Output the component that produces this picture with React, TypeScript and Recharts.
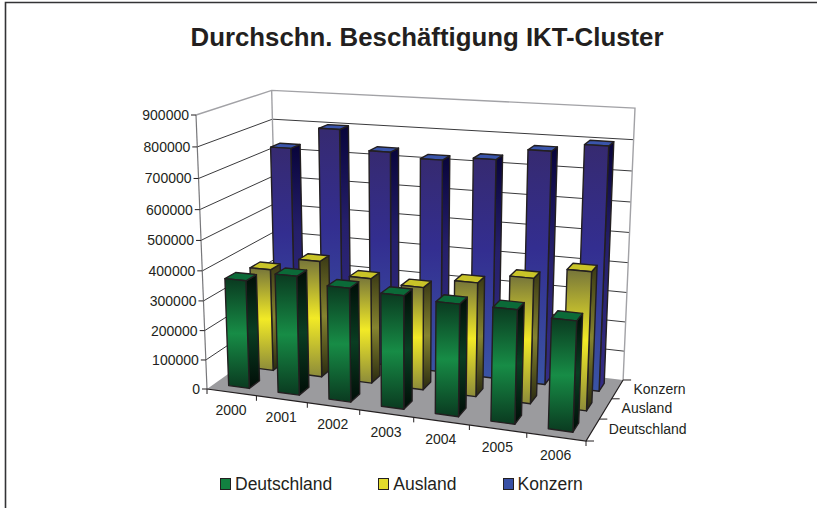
import React from "react";
import { ComposedChart, Bar, XAxis, YAxis, CartesianGrid, Legend, Customized } from "recharts";

const years = ["2000", "2001", "2002", "2003", "2004", "2005", "2006"];
const deutschland = [365000, 397000, 376000, 370000, 362000, 363000, 348000];
const ausland = [353000, 398000, 357000, 345000, 378000, 410000, 448000];
const konzern = [728000, 802000, 737000, 722000, 735000, 773000, 800000];
const valueTicks = [0, 100000, 200000, 300000, 400000, 500000, 600000, 700000, 800000, 900000];
const depthLabels = ["Deutschland", "Ausland", "Konzern"];
const title = "Durchschn. Beschäftigung IKT-Cluster";

const data = years.map((year, i) => ({
  year,
  Deutschland: deutschland[i],
  Ausland: ausland[i],
  Konzern: konzern[i],
}));

const FONT = '"Liberation Sans", Arial, sans-serif';
const TEXT = "#231f20";
const PL = 100, PT = 100, PW = 600, PH = 300;
const BAR_DEPTH = 0.14;
const BAR_PX = 36;

// projective camera: unit cube (u along years, v up, w into the page) -> picture
const O = [207, 389], U = [586, 441], V = [196, 115], W = [278, 338.6];
const ka = 0.9, kb = 0.9476, kc = 1.109;
function project(u: number, v: number, w: number): [number, number] {
  const d = (ka - 1) * u + (kb - 1) * v + (kc - 1) * w + 1;
  const f = (i: number) =>
    (ka * U[i] - O[i]) * u + (kb * V[i] - O[i]) * v + (kc * W[i] - O[i]) * w + O[i];
  return [f(0) / d, f(1) / d];
}
const pts = (list: [number, number][]) => list.map((p) => p.map((n) => n.toFixed(1)).join(",")).join(" ");
const toU = (x: number) => (x - PL) / PW;
const toV = (y: number) => (PT + PH - y) / PH;

const palette: Record<string, any> = {
  Deutschland: {
    front: ["#0a3a20", "#178c46", "#0a3a20"],
    side: ["#010d07", "#0a3d22", "#010d07"],
    top: "#0b6a38",
    swatch: "#128040",
  },
  Ausland: {
    front: ["#76753a", "#f2ea26", "#8c8b3a"],
    side: ["#3a3915", "#85842f", "#2a2a10"],
    top: "#c9c428",
    swatch: "#e2dc2c",
  },
  Konzern: {
    front: ["#362a70", "#332e90", "#3a54a5"],
    side: ["#08043a", "#251f6a", "#352d85"],
    top: "#3a55ab",
    swatch: "#3850a5",
  },
};

function grad(id: string, c: string[], mid: number) {
  return (
    <linearGradient id={id} x1="0" y1="0" x2="0" y2="1" key={id}>
      <stop offset="0" stopColor={c[0]} />
      <stop offset={mid} stopColor={c[1]} />
      <stop offset="1" stopColor={c[2]} />
    </linearGradient>
  );
}

function Scene() {
  const floor = pts([project(0, 0, 0), project(1, 0, 0), project(1, 0, 1), project(0, 0, 1)]);
  return (
    <g>
      <defs>
        {Object.keys(palette).map((k) => {
          const mid = k === "Konzern" ? 0.42 : 0.5;
          return [grad(`front-${k}`, palette[k].front, mid), grad(`side-${k}`, palette[k].side, mid)];
        })}
      </defs>
      <polygon points={floor} fill="#9b9b9e" />
      <polyline
        points={pts([project(0, 1, 0), project(0, 1, 1), project(1, 1, 1), project(1, 0, 1)])}
        fill="none"
        stroke="#a2a2a6"
        strokeWidth={1.4}
      />
      <line
        x1={project(0, 1, 1)[0]}
        y1={project(0, 1, 1)[1]}
        x2={project(0, 0, 1)[0]}
        y2={project(0, 0, 1)[1]}
        stroke="#a2a2a6"
        strokeWidth={1.4}
      />
      <line
        x1={project(0, 1, 0)[0]}
        y1={project(0, 1, 0)[1]}
        x2={project(0, 0, 0)[0]}
        y2={project(0, 0, 0)[1]}
        stroke="#77777a"
        strokeWidth={1.2}
      />
      <text x={427} y={46} textAnchor="middle" fontFamily={FONT} fontWeight="bold" fontSize={25.8} fill={TEXT}>
        {title}
      </text>
      <polyline points="5.5,508 5.5,2.5 817,2.5" fill="none" stroke="#333335" strokeWidth={1.6} />
    </g>
  );
}

function Overlay() {
  const line0 = [project(0, 0, 0), project(1, 0, 0), project(1, 0, 1)] as [number, number][];
  return (
    <g>
      <polyline points={pts(line0)} fill="none" stroke="#231f20" strokeWidth={1.2} />
      {[0, 1, 2, 3].map((i) => {
        const [x, y] = project(1, 0, i / 3);
        return <line key={i} x1={x} y1={y} x2={x + 8} y2={y} stroke="#231f20" strokeWidth={1} />;
      })}
      {depthLabels.map((name, i) => {
        const [x, y] = project(1, 0, (i + 0.5) / 3);
        return (
          <text key={name} x={x + 16} y={y + 4.5} fontFamily={FONT} fontSize={14} fill={TEXT}>
            {name}
          </text>
        );
      })}
    </g>
  );
}

function gridLine(props: any) {
  const v = toV(props.y1 ?? props.y);
  if (v <= 0.001 || v >= 0.999) return <g key={props.key} />;
  return (
    <polyline
      key={props.key}
      points={pts([project(0, v, 0), project(0, v, 1), project(1, v, 1)])}
      fill="none"
      stroke="#3a3a3c"
      strokeWidth={1}
    />
  );
}

function barShape(name: string, row: number) {
  return (props: any) => {
    const { x, y, width, height } = props;
    const u0 = toU(x), u1 = toU(x + width);
    const vt = toV(y), vb = toV(y + height);
    const w0 = (row + 0.5) / 3 - BAR_DEPTH / 2, w1 = w0 + BAR_DEPTH;
    const s = { stroke: "#231f20", strokeWidth: 1.4, strokeLinejoin: "round" as const };
    return (
      <g>
        <polygon
          points={pts([project(u1, vb, w0), project(u1, vt, w0), project(u1, vt, w1), project(u1, vb, w1)])}
          fill={`url(#side-${name})`}
          {...s}
        />
        <polygon
          points={pts([project(u0, vt, w0), project(u1, vt, w0), project(u1, vt, w1), project(u0, vt, w1)])}
          fill={palette[name].top}
          {...s}
        />
        <polygon
          points={pts([project(u0, vb, w0), project(u0, vt, w0), project(u1, vt, w0), project(u1, vb, w0)])}
          fill={`url(#front-${name})`}
          {...s}
        />
      </g>
    );
  };
}

function XTick(props: any) {
  const u = toU(props.x);
  const [x, y] = project(u, 0, 0);
  const half = 1 / 14;
  const [tx, ty] = project(u + half, 0, 0);
  const [ox, oy] = project(0, 0, 0);
  return (
    <g>
      <line x1={tx} y1={ty} x2={tx} y2={ty + 5} stroke="#231f20" strokeWidth={1} />
      {props.index === 0 ? <line x1={ox} y1={oy} x2={ox} y2={oy + 5} stroke="#231f20" strokeWidth={1} /> : null}
      <text x={x - 0.5} y={y + 23} textAnchor="middle" fontFamily={FONT} fontSize={14} fill={TEXT}>
        {props.payload.value}
      </text>
    </g>
  );
}

function YTick(props: any) {
  const [x, y] = project(0, toV(props.y), 0);
  return (
    <g>
      <line x1={x - 5} y1={y} x2={x} y2={y} stroke="#231f20" strokeWidth={1} />
      <text x={x - 7} y={y + 5} textAnchor="end" fontFamily={FONT} fontSize={14} fill={TEXT}>
        {props.payload.value}
      </text>
    </g>
  );
}

function LegendContent() {
  return (
    <div style={{ display: "flex", fontFamily: FONT, fontSize: 17.5, color: TEXT, lineHeight: "20px" }}>
      {depthLabels.map((name) => (
        <div key={name} style={{ display: "flex", alignItems: "center", marginRight: 46 }}>
          <span
            style={{
              width: 9,
              height: 10,
              background: palette[name].swatch,
              border: "1.5px solid #231f20",
              marginRight: 4,
              display: "inline-block",
            }}
          />
          {name}
        </div>
      ))}
    </div>
  );
}

export default function App() {
  return (
    <div style={{ position: "absolute", left: 0, top: 0, width: 817, height: 508, background: "#fff" }}>
      <ComposedChart
        width={817}
        height={508}
        data={data}
        margin={{ left: PL - 1, top: PT, right: 817 - PL - PW, bottom: 508 - PT - PH - 1 }}
      >
        <Customized component={Scene} />
        <XAxis xAxisId="d" dataKey="year" height={1} axisLine={false} tickLine={false} interval={0} tick={XTick} />
        <XAxis xAxisId="a" dataKey="year" hide />
        <XAxis xAxisId="k" dataKey="year" hide />
        <YAxis width={1} domain={[0, 900000]} ticks={valueTicks} axisLine={false} tickLine={false} interval={0} tick={YTick} />
        <CartesianGrid xAxisId="d" vertical={false} horizontal={gridLine} />
        <Bar xAxisId="k" dataKey="Konzern" barSize={BAR_PX} isAnimationActive={false} shape={barShape("Konzern", 2)} />
        <Bar xAxisId="a" dataKey="Ausland" barSize={BAR_PX} isAnimationActive={false} shape={barShape("Ausland", 1)} />
        <Bar xAxisId="d" dataKey="Deutschland" barSize={BAR_PX} isAnimationActive={false} shape={barShape("Deutschland", 0)} />
        <Customized component={Overlay} />
        <Legend
          layout="horizontal"
          verticalAlign="middle"
          align="center"
          content={LegendContent}
          wrapperStyle={{ position: "absolute", left: 220, top: 474, width: 500, height: 22, margin: 0 }}
        />
      </ComposedChart>
    </div>
  );
}
